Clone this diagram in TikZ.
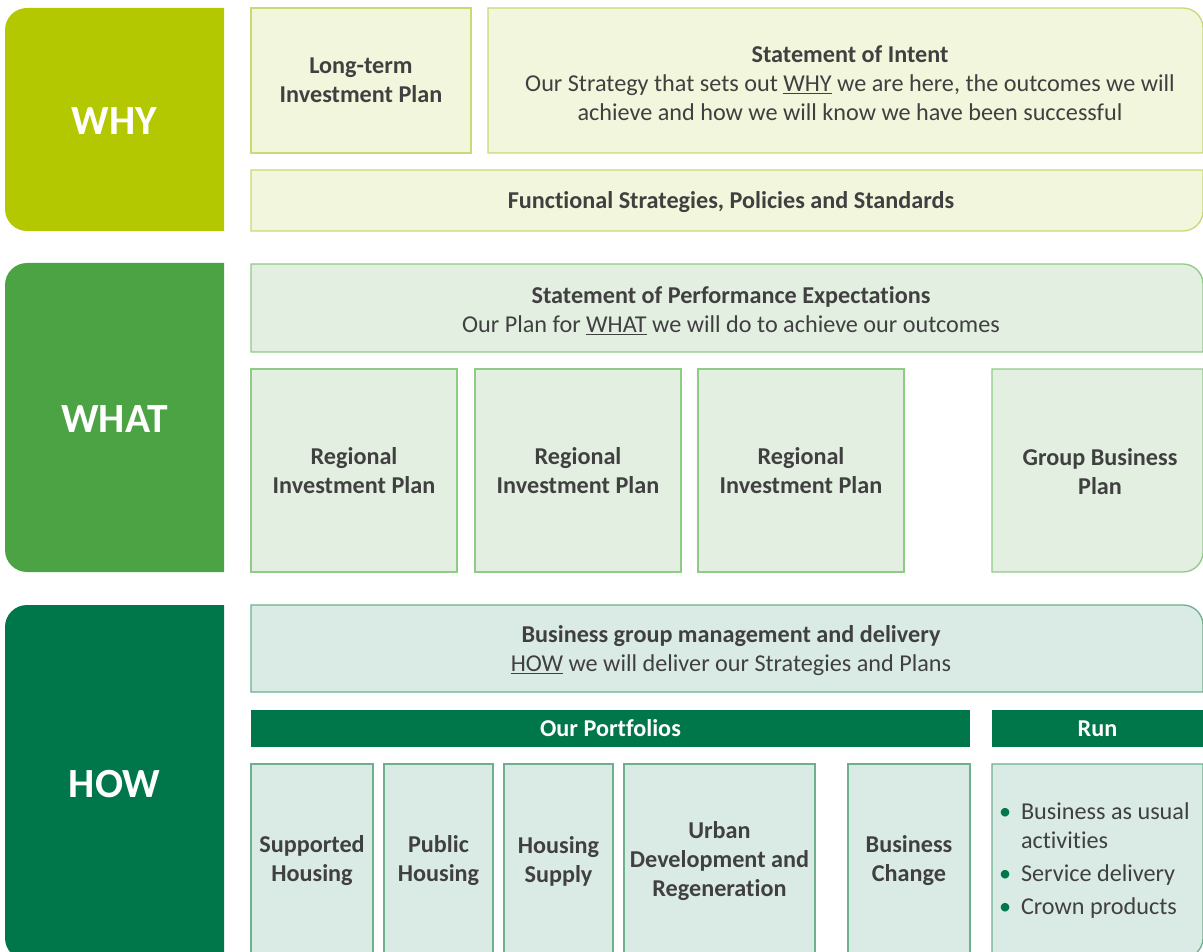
\documentclass[tikz,border=0pt]{standalone}
\usepackage{fontspec}
\setmainfont{Carlito}[Ligatures=NoCommon]
\definecolor{whyC}{HTML}{B3C800}
\definecolor{whyL}{HTML}{F2F6DC}
\definecolor{whyB}{HTML}{C8DA72}
\definecolor{whatC}{HTML}{4BA343}
\definecolor{whatL}{HTML}{E3EFE1}
\definecolor{whatB}{HTML}{8ECB84}
\definecolor{howC}{HTML}{00774A}
\definecolor{howL}{HTML}{DAEBE5}
\definecolor{howB}{HTML}{6DAF8E}
\definecolor{txtC}{HTML}{404040}
\begin{document}
\begin{tikzpicture}[x=1pt,y=-1pt,inner sep=0pt,outer sep=0pt,
lbl/.style={text=txtC,align=center,font=\fontsize{24.2}{29}\selectfont},
blbl/.style={lbl,font=\fontsize{24.2}{29}\selectfont\bfseries},
tag/.style={text=white,font=\fontsize{41.5}{48}\selectfont\bfseries},
bar/.style={fill=howC,text=white,font=\fontsize{24.2}{29}\selectfont\bfseries},
whybox/.style={draw=whyB,fill=whyL,line width=1.3pt},
whatbox/.style={draw=whatB,fill=whatL,line width=1.3pt},
howbox/.style={draw=howB,fill=howL,line width=1.3pt}]

\useasboundingbox (0,0) rectangle (1203,952);
\clip (0,0) rectangle (1203,952);

% left column
\fill[whyC] (224,8) -- (27,8) arc[start angle=-90,end angle=-180,radius=22] -- (5,209) arc[start angle=180,end angle=90,radius=22] -- (224,231) -- cycle;
\fill[whatC] (224,263) -- (27,263) arc[start angle=-90,end angle=-180,radius=22] -- (5,550) arc[start angle=180,end angle=90,radius=22] -- (224,572) -- cycle;
\fill[howC] (224,605) -- (27,605) arc[start angle=-90,end angle=-180,radius=22] -- (5,938) arc[start angle=180,end angle=90,radius=22] -- (224,960) -- cycle;
\node[tag] (why) at (114.5,121) {WHY};
\node[tag] (what) at (114.5,419) {WHAT};
\node[tag] (how) at (114.5,784) {HOW};

% why row
\node[whybox,blbl,minimum width=220,minimum height=145] (ltip) at (361,80.5) {Long-term\\Investment Plan};
\draw[whybox] (488,8) -- (1183,8) arc[start angle=-90,end angle=0,radius=20] -- (1203,153) -- (488,153) -- cycle;
\node[lbl] (soi) at (850,83) {{\bfseries Statement of Intent}\\Our Strategy that sets out \underline{WHY} we are here, the outcomes we will\\achieve and how we will know we have been successful};
\draw[whybox] (251,170) -- (1203,170) -- (1203,211) arc[start angle=0,end angle=90,radius=20] -- (251,231) -- cycle;
\node[blbl] (fsps) at (731,202.5) {Functional Strategies, Policies and Standards};

% what row
\draw[whatbox] (251,264) -- (1183,264) arc[start angle=-90,end angle=0,radius=20] -- (1203,352) -- (251,352) -- cycle;
\node[lbl] (spe) at (731,310.5) {{\bfseries Statement of Performance Expectations}\\Our Plan for \underline{WHAT} we will do to achieve our outcomes};
\node[whatbox,blbl,minimum width=206,minimum height=203] (rip1) at (354,470.5) {Regional\\Investment Plan};
\node[whatbox,blbl,minimum width=206,minimum height=203] (rip2) at (578,470.5) {Regional\\Investment Plan};
\node[whatbox,blbl,minimum width=206,minimum height=203] (rip3) at (801,470.5) {Regional\\Investment Plan};
\draw[whatbox] (992,369) -- (1203,369) -- (1203,552) arc[start angle=0,end angle=90,radius=20] -- (992,572) -- cycle;
\node[blbl] (gbp) at (1100,472) {Group Business\\Plan};

% how row
\draw[howbox] (251,605) -- (1183,605) arc[start angle=-90,end angle=0,radius=20] -- (1203,692) -- (251,692) -- cycle;
\node[lbl] (bgm) at (731,650.5) {{\bfseries Business group management and delivery}\\\underline{HOW} we will deliver our Strategies and Plans};
\node[bar,minimum width=719,minimum height=37] (port) at (610.5,728.5) {Our Portfolios};
\node[bar,minimum width=211,minimum height=37] (runbar) at (1097.5,728.5) {Run};
\node[howbox,blbl,minimum width=122,minimum height=194] (sh) at (312,861) {Supported\\Housing};
\node[howbox,blbl,minimum width=109,minimum height=194] (ph) at (438.5,861) {Public\\Housing};
\node[howbox,blbl,minimum width=109,minimum height=194] (hs) at (558.5,861) {Housing\\Supply};
\node[howbox,blbl,minimum width=191,minimum height=194] (udr) at (719.5,861) {Urban\\Development and\\Regeneration};
\node[howbox,blbl,minimum width=122,minimum height=194] (bc) at (909,861) {Business\\Change};
\draw[howbox] (992,764) -- (1203,764) -- (1203,938) arc[start angle=0,end angle=90,radius=20] -- (992,958) -- cycle;
\node[lbl,align=left,anchor=west] (runlist) at (999,861) {\makebox[22pt][l]{\textcolor{howC}{\textbullet}}Business as usual\\\hspace*{22pt}activities\\[4pt]\makebox[22pt][l]{\textcolor{howC}{\textbullet}}Service delivery\\[4pt]\makebox[22pt][l]{\textcolor{howC}{\textbullet}}Crown products};
\end{tikzpicture}
\end{document}
